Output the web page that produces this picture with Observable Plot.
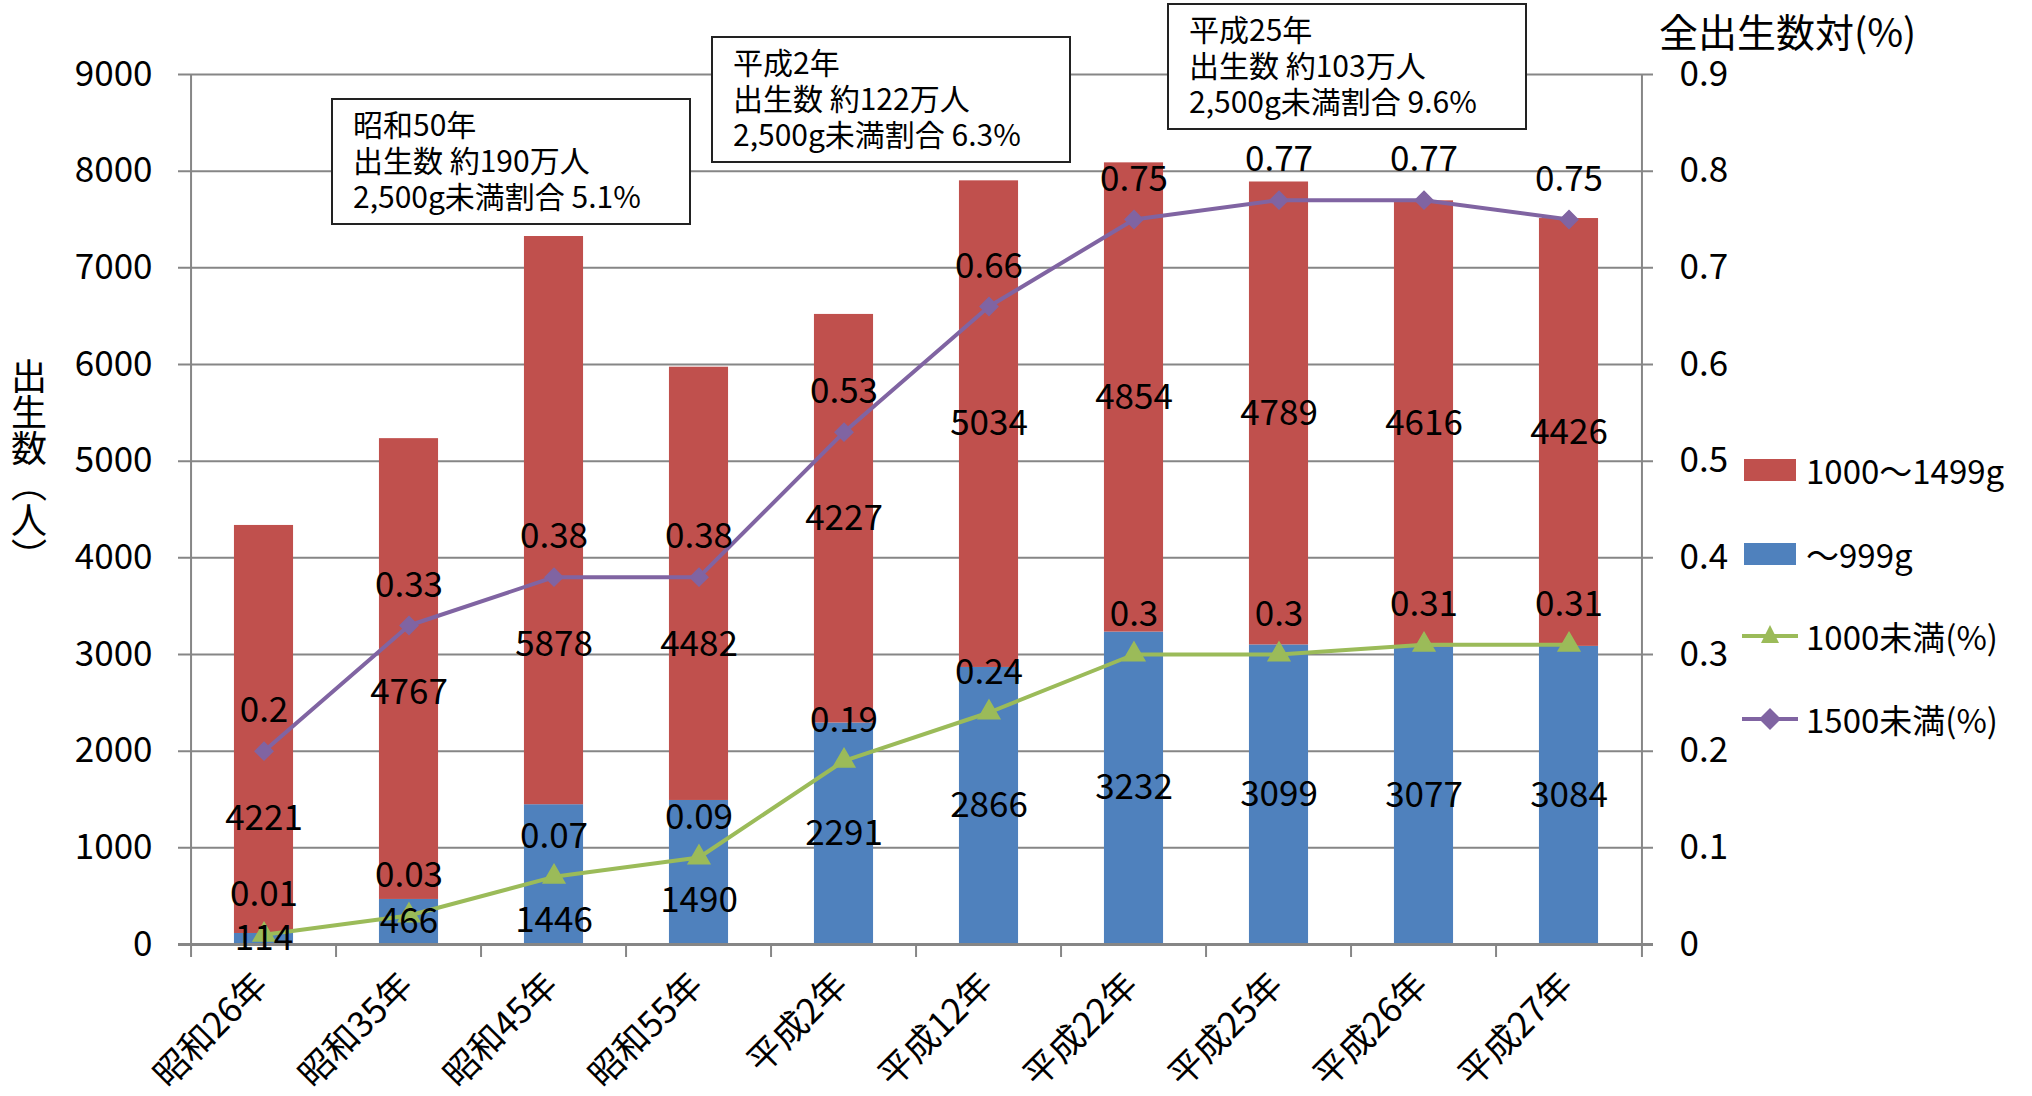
<!DOCTYPE html>
<html><head><meta charset="utf-8">
<script src="https://cdn.jsdelivr.net/npm/d3@7"></script>
<script src="https://cdn.jsdelivr.net/npm/@observablehq/plot@0.6"></script>
<style>
body{margin:0;background:#fff;}
#wrap{position:relative;width:2032px;height:1096px;font-family:"Noto Sans CJK JP","Noto Sans",sans-serif;color:#000;overflow:hidden;background:#fff}
#chart{position:absolute;left:0;top:0}
.note{position:absolute;box-sizing:border-box;border:2px solid #222;background:#fff;padding:5px 0 0 20px;font-size:30px;line-height:36px;white-space:nowrap}
.ytitle{position:absolute;left:10px;top:358px;writing-mode:vertical-rl;font-size:36px;line-height:38px}
.rtitle{position:absolute;left:1659px;top:5px;font-size:39px;line-height:50px;white-space:nowrap}
.leg{position:absolute;left:1742px;display:flex;align-items:center;font-size:33px;white-space:nowrap}
.leg svg{margin-right:8px}
</style>
</head><body>
<div id="wrap"><div id="chart"></div></div>
<script>
// ---- data ----
const categories = ["昭和26年","昭和35年","昭和45年","昭和55年","平成2年","平成12年","平成22年","平成25年","平成26年","平成27年"];
const under999 = [114,466,1446,1490,2291,2866,3232,3099,3077,3084];
const from1000to1499 = [4221,4767,5878,4482,4227,5034,4854,4789,4616,4426];
const pctUnder1000 = [0.01,0.03,0.07,0.09,0.19,0.24,0.3,0.3,0.31,0.31];
const pctUnder1500 = [0.2,0.33,0.38,0.38,0.53,0.66,0.75,0.77,0.77,0.75];
const leftTicks = [0,1000,2000,3000,4000,5000,6000,7000,8000,9000];
const rightTicks = [0,0.1,0.2,0.3,0.4,0.5,0.6,0.7,0.8,0.9];
const seriesNames = ["1000～1499g","～999g","1000未満(%)","1500未満(%)"];
const yTitle = "出生数（人）";
const rightTitle = "全出生数対(%)";
const noteTexts = [
  ["昭和50年","出生数 約190万人","2,500g未満割合 5.1%"],
  ["平成2年","出生数 約122万人","2,500g未満割合 6.3%"],
  ["平成25年","出生数 約103万人","2,500g未満割合 9.6%"]
];

// ---- style ----
const W = 2032, H = 1096, mL = 186, mR = 387, mT = 74, mB = 152;
const RED = "#C0504D", BLUE = "#4F81BD", GREEN = "#9BBB59", PURPLE = "#8064A2", GRID = "#868686";
const RATIO = 10000; // right axis (0–0.9) mapped onto left axis (0–9000)
const step = (W - mL - mR) / categories.length;
const barW = 60;
const inset = (step - barW) / 2;
const fs = 35;

const idx = categories.map((_, i) => i);
const bars = idx.map(i => ({cat: categories[i], b: under999[i], r: from1000to1499[i]}));

// label placement: keep bar labels clear of the line markers
const blueLabelY = i => {
  const c = under999[i] / 2, l = pctUnder1000[i] * RATIO;
  return (under999[i] > 1000 && Math.abs(c - l) < 400) ? l - 450 : c;
};
const redLabelY = i => {
  const c = under999[i] + from1000to1499[i] / 2, l = pctUnder1500[i] * RATIO;
  return (l - c < 700) ? l - 700 : c;
};

const chart = Plot.plot({
  width: W, height: H,
  marginLeft: mL, marginRight: mR, marginTop: mT, marginBottom: mB,
  style: {fontFamily: '"Noto Sans CJK JP","Noto Sans",sans-serif', fontSize: fs + "px", color: "#000", background: "transparent", overflow: "visible"},
  x: {type: "band", domain: categories, padding: 0, axis: null, label: null},
  y: {domain: [0, 9000], axis: null, label: null},
  marks: [
    Plot.ruleY(leftTicks.filter(d => d > 0), {y: d => d, stroke: GRID, strokeWidth: 2, insetLeft: -8, insetRight: -8}),
    Plot.barY(bars, {x: "cat", y1: 0, y2: "b", fill: BLUE, insetLeft: inset, insetRight: inset}),
    Plot.barY(bars, {x: "cat", y1: "b", y2: d => d.b + d.r, fill: RED, insetLeft: inset, insetRight: inset}),
    Plot.ruleX([categories[0]], {x: d => d, dx: -step / 2, stroke: GRID, strokeWidth: 2}),
    Plot.ruleX([categories[categories.length - 1]], {x: d => d, dx: step / 2, stroke: GRID, strokeWidth: 2}),
    Plot.ruleY([0], {stroke: GRID, strokeWidth: 3, insetLeft: -8, insetRight: -8}),
    Plot.axisX({ticks: categories, tickSize: 13, tickFormat: () => "", label: null, dx: -step / 2, stroke: GRID, strokeWidth: 2}),
    Plot.axisX({ticks: [categories[categories.length - 1]], tickSize: 13, tickFormat: () => "", label: null, dx: step / 2, stroke: GRID, strokeWidth: 2}),
    Plot.axisY({anchor: "left", ticks: leftTicks, tickSize: 0, tickPadding: 34, label: null, tickFormat: d => String(d), fontSize: fs}),
    Plot.axisY({anchor: "right", ticks: rightTicks.map(v => v * RATIO), tickSize: 0, tickPadding: 34, label: null, tickFormat: d => String(+(d / RATIO).toFixed(2)), fontSize: fs}),
    Plot.line(idx, {x: i => categories[i], y: i => pctUnder1000[i] * RATIO, stroke: GREEN, strokeWidth: 4}),
    Plot.dot(idx, {x: i => categories[i], y: i => pctUnder1000[i] * RATIO, symbol: "triangle", r: 8, fill: GREEN, stroke: GREEN}),
    Plot.line(idx, {x: i => categories[i], y: i => pctUnder1500[i] * RATIO, stroke: PURPLE, strokeWidth: 4}),
    Plot.dot(idx, {x: i => categories[i], y: i => pctUnder1500[i] * RATIO, symbol: "diamond2", r: 8, fill: PURPLE, stroke: PURPLE}),
    Plot.text(idx, {x: i => categories[i], y: blueLabelY, text: i => String(under999[i]), fontSize: fs, fill: "#000"}),
    Plot.text(idx, {x: i => categories[i], y: redLabelY, text: i => String(from1000to1499[i]), fontSize: fs, fill: "#000"}),
    Plot.text(idx, {x: i => categories[i], y: i => pctUnder1000[i] * RATIO, text: i => String(pctUnder1000[i]), dy: -40, fontSize: fs, fill: "#000"}),
    Plot.text(idx, {x: i => categories[i], y: i => pctUnder1500[i] * RATIO, text: i => String(pctUnder1500[i]), dy: -40, fontSize: fs, fill: "#000"}),
    Plot.text(categories, {x: d => d, frameAnchor: "bottom", rotate: -45, textAnchor: "end", dx: 6, dy: 43, fontSize: 35, fill: "#000"})
  ]
});
const wrap = document.getElementById("wrap");
document.getElementById("chart").appendChild(chart);

const yt = document.createElement("div"); yt.className = "ytitle"; yt.textContent = yTitle; wrap.appendChild(yt);
const rt = document.createElement("div"); rt.className = "rtitle"; rt.textContent = rightTitle; wrap.appendChild(rt);

const noteBoxes = [{l: 331, t: 98}, {l: 711, t: 36}, {l: 1167, t: 3}];
noteTexts.forEach((lines, k) => {
  const d = document.createElement("div");
  d.className = "note";
  d.style.left = noteBoxes[k].l + "px"; d.style.top = noteBoxes[k].t + "px";
  d.style.width = "360px"; d.style.height = "127px";
  d.innerHTML = lines.map(s => `<div>${s}</div>`).join("");
  wrap.appendChild(d);
});

const legTops = [468, 552, 634, 717];
const legItems = [
  {name: seriesNames[0], kind: "rect", color: RED},
  {name: seriesNames[1], kind: "rect", color: BLUE},
  {name: seriesNames[2], kind: "tri", color: GREEN},
  {name: seriesNames[3], kind: "dia", color: PURPLE}
];
legItems.forEach((it, k) => {
  const row = document.createElement("div");
  row.className = "leg";
  row.style.top = (legTops[k] - 22) + "px";
  let sw;
  if (it.kind === "rect") sw = `<svg width="56" height="44"><rect x="2" y="11" width="52" height="22" fill="${it.color}"/></svg>`;
  else if (it.kind === "tri") sw = `<svg width="56" height="44"><line x1="0" y1="22" x2="56" y2="22" stroke="${it.color}" stroke-width="4"/><path d="M28,11 L37,29 L19,29 Z" fill="${it.color}"/></svg>`;
  else sw = `<svg width="56" height="44"><line x1="0" y1="22" x2="56" y2="22" stroke="${it.color}" stroke-width="4"/><path d="M28,11 L39,22 L28,33 L17,22 Z" fill="${it.color}"/></svg>`;
  row.innerHTML = sw + `<span>${it.name}</span>`;
  wrap.appendChild(row);
});
</script>
</body></html>
